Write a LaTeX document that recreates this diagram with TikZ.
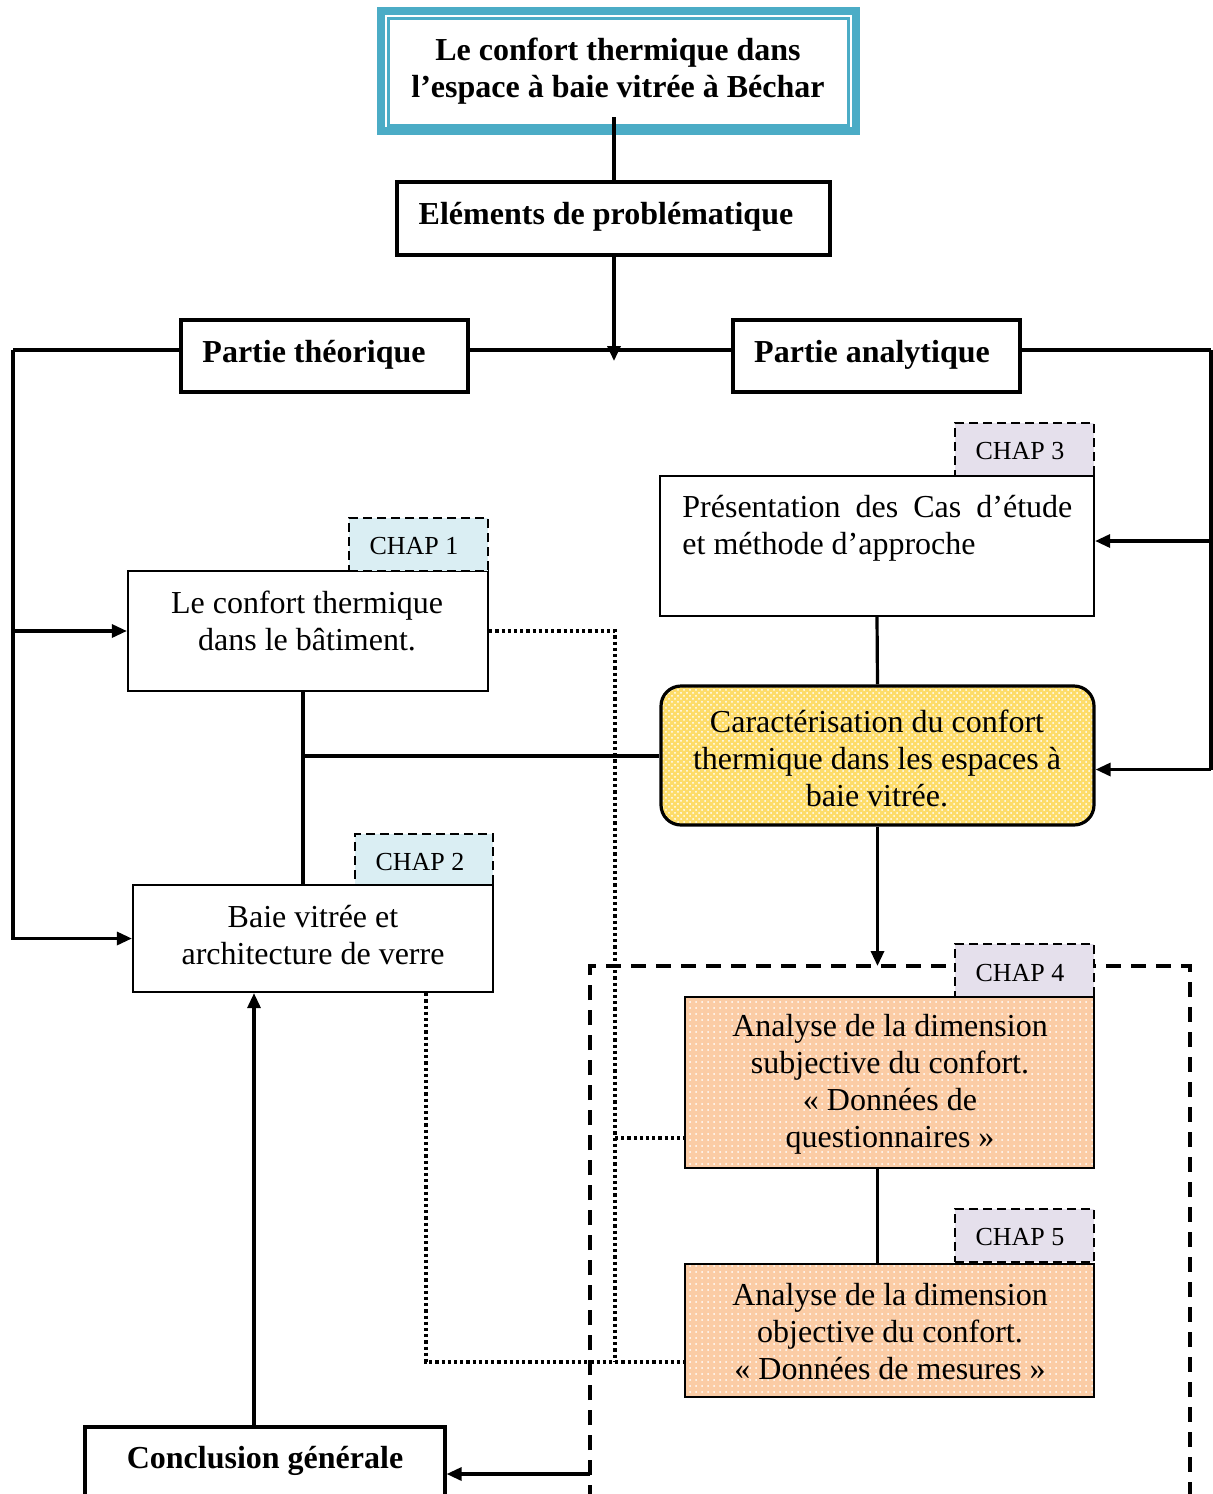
\documentclass[tikz,border=0pt]{standalone}
\usepackage{fontspec}
\setmainfont{Liberation Serif}
\usetikzlibrary{arrows.meta,fit,patterns}
\definecolor{teal5}{HTML}{4BACC6}
\definecolor{tagblue}{HTML}{DAEEF3}
\definecolor{taglav}{HTML}{E5E0EC}
\definecolor{yelbase}{RGB}{253,220,105}
\definecolor{peach}{RGB}{251,204,165}
\tikzset{
 conn/.style={line width=1.6pt},
 arr/.style={conn,-{Triangle[length=7.5pt,width=6.5pt]}},
 bx/.style={draw,line width=1.6pt,inner sep=0pt,fill=white},
 bxthin/.style={draw,line width=1.1pt,inner sep=0pt,fill=white},
 tagbox/.style={draw,line width=1.25pt,dash pattern=on 4.5pt off 2.5pt,inner sep=0pt},
 dashline/.style={line width=1.8pt,dash pattern=on 7.5pt off 5pt},
 dotline/.style={line width=1.75pt,dash pattern=on 1.6pt off 1.5pt},
 txt/.style={font=\fontsize{16}{18.5}\selectfont,align=center,inner sep=0pt},
 btxt/.style={font=\fontsize{16}{18.5}\selectfont\bfseries,align=center,inner sep=0pt},
 tagtxt/.style={font=\fontsize{13}{15}\selectfont,inner sep=0pt},
}
\begin{document}
\begin{tikzpicture}[x=0.5pt,y=-0.5pt]
\useasboundingbox (0,0) rectangle (1212,1494);

% dashed frame (behind tags)
\coordinate (dl) at (590,966);
\coordinate (dr) at (1190,966);
\coordinate (dlb) at (590,1500);
\coordinate (drb) at (1190,1500);
\draw[dashline] (dlb) -- (dl) -- (dr) -- (drb);

% title
\node[fit={(377,7)(860,135)},inner sep=0pt,fill=white] (title) {};
\draw[teal5,line width=4pt] (381,11) rectangle (856,131);
\draw[teal5,line width=1.25pt] (388.5,18.5) rectangle (848.5,125.5);
\node[btxt] (titletxt) at (618,71) {Le confort thermique dans\\l’espace à baie vitrée à Béchar};

% boxes
\node[bx,fit={(397,182)(830,255)}] (elem) {};
\node[bx,fit={(181,320)(468,392)}] (pt) {};
\node[bx,fit={(733,320)(1020,392)}] (pa) {};
\node[bxthin,fit={(128,571)(488,691)}] (box1) {};
\node[tagbox,fill=tagblue,fit={(349,518)(488,571)}] (tag1) {};
\node[tagbox,fill=tagblue,fit={(355,834)(493,886)}] (tag2) {};
\node[bxthin,fit={(133,885)(493,992)}] (baie) {};
\node[bx,fit={(85,1427)(445,1530)}] (concl) {};
\node[tagbox,fill=taglav,fit={(955,423)(1094,476)}] (tag3) {};
\node[bxthin,fit={(660,476)(1094,616)}] (pres) {};
\node[draw,line width=1.6pt,inner sep=0pt,rounded corners=10pt,
      preaction={fill=yelbase},pattern=crosshatch dots,pattern color=white,
      fit={(661,686)(1094,825)}] (yel) {};
\node[tagbox,fill=taglav,fit={(955,944)(1094,997)}] (tag4) {};
\node[draw,line width=1.1pt,inner sep=0pt,preaction={fill=peach},pattern=dots,pattern color=white,
      fit={(685,997)(1094,1168)}] (or1) {};
\node[tagbox,fill=taglav,fit={(955,1209)(1094,1262)}] (tag5) {};
\node[draw,line width=1.1pt,inner sep=0pt,preaction={fill=peach},pattern=dots,pattern color=white,
      fit={(685,1264)(1094,1397)}] (or2) {};

% texts
\node[btxt] (elemtxt) at (606,217) {Eléments de problématique};
\node[btxt] (pttxt) at (314,355) {Partie théorique};
\node[btxt] (patxt) at (872,355) {Partie analytique};
\node[tagtxt] (t1) at (414,546) {CHAP 1};
\node[tagtxt] (t2) at (420,862) {CHAP 2};
\node[tagtxt] (t3) at (1020,451) {CHAP 3};
\node[tagtxt] (t4) at (1020,973) {CHAP 4};
\node[tagtxt] (t5) at (1020,1237) {CHAP 5};
\node[txt] (box1txt) at (307,621) {Le confort thermique\\dans le bâtiment.};
\node[txt] (baietxt) at (313,935) {Baie vitrée et\\architecture de verre};
\node[txt,align=left,anchor=west] (prestxt) at (682,528)
  {\makebox[195pt][s]{Présentation des Cas d’étude}\\et méthode d’approche};
\node[txt] (yeltxt) at (877,758) {Caractérisation du confort\\thermique dans les espaces à\\baie vitrée.};
\node[txt] (or1txt) at (890,1084) {Analyse de la dimension\\subjective du confort.\\«~Données de\\questionnaires~»};
\node[txt] (or2txt) at (890,1332) {Analyse de la dimension\\objective du confort.\\«~Données de mesures~»};
\node[btxt] (concltxt) at (265,1461) {Conclusion générale};

% coordinates
\coordinate (tb) at (614,117);
\coordinate (hj) at (614,361);
\coordinate (hl) at (614,350);
\coordinate (lc) at (13,350);
\coordinate (rc) at (1211,350);
\coordinate (vx) at (303,756);
\coordinate (dq) at (615,1138);
\coordinate (dbq) at (615,1362);
\coordinate (bq) at (426,1362);
\coordinate (ca) at (590,1474);
\coordinate (cu) at (254,1427);
\coordinate (pe) at ([yshift=2.5pt]pres.east);
\coordinate (ye) at ([yshift=-7pt]yel.east);

% connectors
\draw[conn] (tb) -- (tb |- elem.north);
\draw[arr] (tb |- elem.south) -- (hj);
\draw[conn] (lc) -- (pt.west |- hl);
\draw[conn] (pt.east |- hl) -- (pa.west |- hl);
\draw[conn] (pa.east |- hl) -- (rc);
\draw[arr] (lc) |- (box1.west);
\draw[arr] (lc) |- (baie.west);
\draw[conn] (rc) -- (rc |- ye);
\draw[arr] (rc |- pe) -- (pe);
\draw[arr] (rc |- ye) -- (ye);
\draw[conn] (box1.south -| vx) -- (baie.north -| vx);
\draw[conn] (vx) -- (yel.west |- vx);
\draw[conn] (pres.south) -- (yel.north);
\draw[arr] (yel.south) -- (yel.south |- dl);
\draw[conn] (or1.south -| yel.south) -- (or2.north -| yel.south);
\draw[dotline] (box1.east) -| (dbq);
\draw[dotline] (baie.south -| bq) -- (bq) -- (or2.west |- bq);
\draw[dotline] (dq) -- (or1.west |- dq);
\draw[arr] (ca) -- (concl.east |- ca);
\draw[arr] (cu) -- (cu |- baie.south);
\end{tikzpicture}
\end{document}
